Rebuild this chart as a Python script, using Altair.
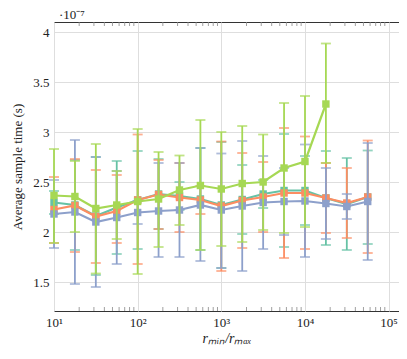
import altair as alt
import pandas as pd

# x positions (r_min / r_max)
x_vals = [10, 17.78, 31.62, 56.23, 100, 177.8, 316.2, 562.3, 1000, 1778, 3162, 5623,
          10000, 17783, 31623, 56234]

# values in units of 1e-7 s
teal_mean = [2.295, 2.27, 2.16, 2.245, 2.32, 2.38, 2.36, 2.33, 2.27, 2.325, 2.38, 2.415, 2.415, 2.34, 2.28, 2.35]
teal_hi   = [2.41, 2.72, 2.75, 2.71, 2.81, 2.73, 2.50, 2.84, 2.90, 2.67, 2.52, 2.98, 2.76, 2.81, 2.74, 2.815]
teal_lo   = [2.18, 1.82, 1.57, 1.78, 1.83, 2.03, 2.22, 1.82, 1.64, 1.98, 2.24, 1.85, 2.07, 1.87, 1.82, 1.88]

orange_mean = [2.225, 2.265, 2.155, 2.21, 2.32, 2.375, 2.345, 2.32, 2.26, 2.315, 2.35, 2.39, 2.39, 2.34, 2.29, 2.35]
orange_hi   = [2.55, 2.73, 2.62, 2.57, 2.975, 2.72, 2.69, 2.46, 2.905, 2.79, 2.70, 3.04, 2.955, 2.69, 2.64, 2.915]
orange_lo   = [1.89, 1.80, 1.69, 1.89, 1.68, 2.03, 2.00, 2.18, 1.61, 1.84, 2.00, 1.74, 1.83, 1.99, 1.94, 1.79]

blue_mean = [2.18, 2.20, 2.10, 2.145, 2.195, 2.21, 2.22, 2.27, 2.22, 2.26, 2.295, 2.305, 2.31, 2.285, 2.255, 2.305]
blue_hi   = [2.52, 2.92, 2.75, 2.61, 2.31, 2.69, 2.69, 2.84, 2.785, 2.91, 2.76, 2.64, 2.875, 2.64, 2.38, 2.89]
blue_lo   = [1.84, 1.48, 1.45, 1.68, 2.08, 1.75, 1.75, 1.71, 1.64, 1.61, 1.83, 1.97, 1.75, 1.93, 2.13, 1.72]

green_mean = [2.365, 2.355, 2.235, 2.27, 2.305, 2.33, 2.42, 2.465, 2.43, 2.485, 2.50, 2.64, 2.705, 3.28]
green_hi   = [2.83, 2.71, 2.88, 2.61, 3.03, 2.80, 2.765, 3.12, 3.00, 3.06, 2.975, 3.29, 3.36, 3.885]
green_lo   = [1.89, 2.00, 1.585, 1.93, 1.58, 1.85, 2.07, 1.82, 1.86, 1.90, 2.02, 1.99, 2.05, 2.69]

series = [
    ("teal", "#66c2a5", teal_mean, teal_hi, teal_lo),
    ("orange", "#fc8d62", orange_mean, orange_hi, orange_lo),
    ("blue", "#8da0cb", blue_mean, blue_hi, blue_lo),
    ("green", "#a6d854", green_mean, green_hi, green_lo),
]

major_x = [10, 100, 1000, 10000, 100000]
minor_x = [m * d for d in [10, 100, 1000, 10000] for m in range(2, 10)]
y_ticks = [1.5, 2, 2.5, 3, 3.5, 4]

FONT = "Liberation Serif"
W, H = 345, 289

xs = alt.Scale(type="log", domain=[10, 133000], nice=False, zero=False)
ys = alt.Scale(domain=[1.21, 4.1], nice=False, zero=False)

xaxis = alt.Axis(
    values=major_x,
    labelExpr="datum.value == 10 ? '10\u00b9' : datum.value == 100 ? '10\u00b2' : datum.value == 1000 ? '10\u00b3' : datum.value == 10000 ? '10\u2074' : '10\u2075'",
    title="r\u2098\u1d62\u2099/r\u2098\u2090\u2093",
    titleFontStyle="italic", titleFontSize=14,
    grid=True, tickSize=0, labelPadding=5, titlePadding=2,
    labelFlush=False, labelOverlap=False,
    domain=False,
)
yaxis = alt.Axis(
    values=y_ticks,
    labelExpr="'' + datum.value",
    title="Average sample time (s)",
    grid=True, tickSize=0, labelPadding=5, titlePadding=8,
    labelFlush=False, labelOverlap=False,
    domain=False,
)

layers = []
for name, col, mean, hi, lo in series:
    n = len(mean)
    df = pd.DataFrame({"x": x_vals[:n], "mean": mean, "hi": hi, "lo": lo})
    base = alt.Chart(df)
    X = alt.X("x:Q", scale=xs, axis=xaxis)
    rule = base.mark_rule(color=col, strokeWidth=1.8).encode(
        x=X, y=alt.Y("lo:Q", scale=ys, axis=yaxis), y2="hi:Q")
    cap_lo = base.mark_tick(color=col, orient="horizontal", size=10, thickness=1.8).encode(
        x=X, y=alt.Y("lo:Q", scale=ys, axis=yaxis))
    cap_hi = base.mark_tick(color=col, orient="horizontal", size=10, thickness=1.8).encode(
        x=X, y=alt.Y("hi:Q", scale=ys, axis=yaxis))
    line = base.mark_line(color=col, strokeWidth=2.2).encode(
        x=X, y=alt.Y("mean:Q", scale=ys, axis=yaxis))
    pts = base.mark_square(color=col, size=55, opacity=1).encode(
        x=X, y=alt.Y("mean:Q", scale=ys, axis=yaxis))
    layers += [rule, cap_lo, cap_hi, line, pts]

minor_df = pd.DataFrame({"x": minor_x})
minor_bottom = alt.Chart(minor_df).mark_rule(color="#888", strokeWidth=0.8).encode(
    x=alt.X("x:Q", scale=xs, axis=xaxis), y=alt.value(H), y2=alt.value(H - 4))
minor_top = alt.Chart(minor_df).mark_rule(color="#888", strokeWidth=0.8).encode(
    x=alt.X("x:Q", scale=xs, axis=xaxis), y=alt.value(0), y2=alt.value(4))

exp_text = alt.Chart(pd.DataFrame({"t": [0]})).mark_text(
    font=FONT, fontSize=13, align="left", baseline="alphabetic", color="#222"
).encode(x=alt.value(5), y=alt.value(-3), text=alt.value("\u00b710\u207b\u2077"))

chart = alt.layer(minor_bottom, minor_top, *layers, exp_text).properties(
    width=W, height=H,
    autosize=alt.AutoSizeParams(type="none"),
    padding={"left": 46, "top": 14, "right": 0, "bottom": 35},
).configure_view(
    stroke="#333", strokeWidth=1
).configure_axis(
    labelFont=FONT, titleFont=FONT, labelFontSize=13, titleFontSize=13,
    labelColor="#222", titleColor="#222", titleFontWeight="normal",
    gridColor="#dedede", gridWidth=1,
)

chart.save("out.html", embed_options={"renderer": "svg", "actions": False})
